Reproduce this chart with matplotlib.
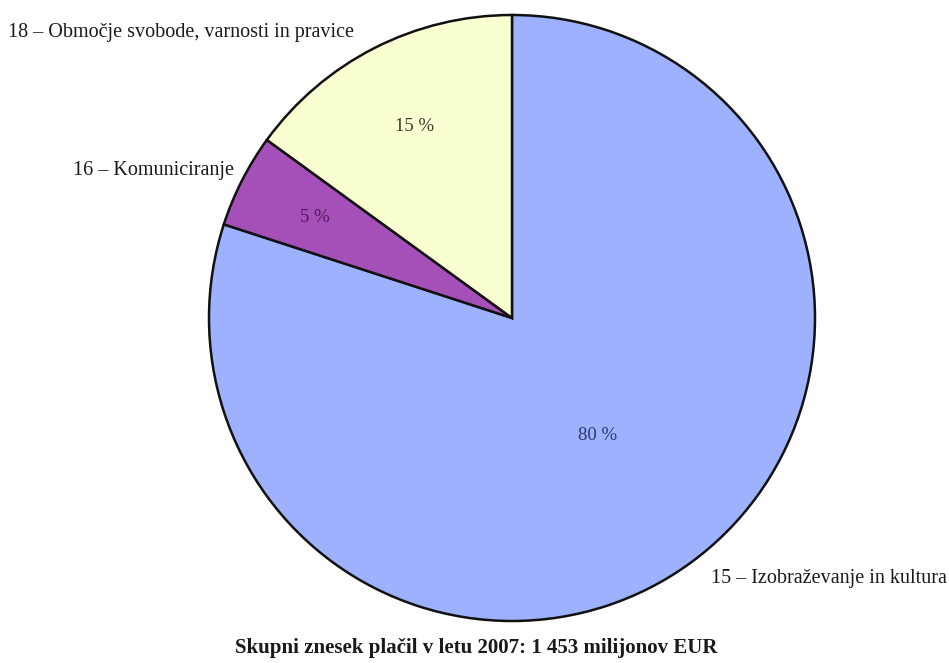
import numpy as np
import matplotlib
matplotlib.use("Agg")
import matplotlib.pyplot as plt

# Payment shares by heading, 2007
labels = ["15 – Izobraževanje in kultura", "16 – Komuniciranje",
          "18 – Območje svobode, varnosti in pravice"]
shares = [80, 5, 15]
pct_labels = ["80 %", "5 %", "15 %"]
colors = ["#9db1ff", "#a54fb8", "#faffd2"]
pct_colors = ["#2e3968", "#4f1a5c", "#3a3a2a"]
pct_radius = [0.48, 0.73, 0.71]
title = "Skupni znesek plačil v letu 2007: 1 453 milijonov EUR"

plt.rcParams["font.family"] = ["Liberation Serif", "DejaVu Serif"]

W, H = 949, 663
R = 303.0            # pie radius in pixels
cx, cy = 512, 318    # pie centre in pixels (from top-left)

fig = plt.figure(figsize=(W / 100, H / 100), dpi=100)
ax = fig.add_axes([0, 0, 1, 1])

wedges, _ = ax.pie(shares, colors=colors, startangle=90, counterclock=False,
                   radius=1.0, center=(0, 0),
                   wedgeprops=dict(edgecolor="#111111", linewidth=1.8))
ax.set_aspect("auto")
ax.set_xlim(-cx / R, (W - cx) / R)
ax.set_ylim(-(H - cy) / R, cy / R)
ax.axis("off")

for w, txt, col, r in zip(wedges, pct_labels, pct_colors, pct_radius):
    mid = np.deg2rad((w.theta1 + w.theta2) / 2)
    ax.text(r * np.cos(mid), r * np.sin(mid), txt, ha="center", va="center",
            fontsize=13.5, color=col)

# outer category labels
def px(x, y):
    return ((x - cx) / R, (cy - y) / R)

ax.text(*px(947, 578), labels[0], ha="right", va="center", fontsize=14.5, color="#1a1a1a")
ax.text(*px(234, 170), labels[1], ha="right", va="center", fontsize=14.5, color="#1a1a1a")
ax.text(*px(8, 32), labels[2], ha="left", va="center", fontsize=14.5, color="#1a1a1a")

ax.text(*px(476, 648), title, ha="center", va="center", fontsize=15,
        fontweight="bold", color="#1a1a1a")

fig.savefig("out.png", dpi=100)
